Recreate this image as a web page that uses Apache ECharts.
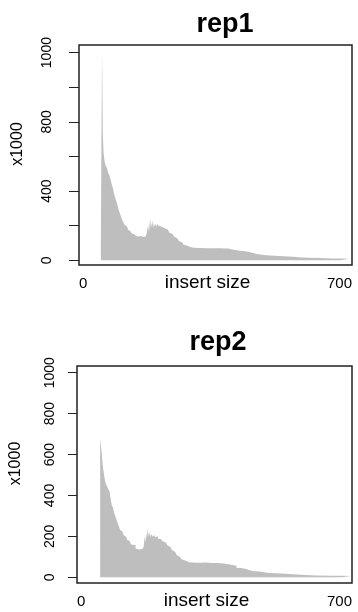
<!DOCTYPE html>
<html>
<head>
<meta charset="utf-8">
<script src="https://cdn.jsdelivr.net/npm/echarts@6/dist/echarts.min.js"></script>
<style>
  html, body { margin: 0; padding: 0; background: #fff; }
  #chart { width: 358px; height: 612px; }
</style>
</head>
<body>
<div id="chart"></div>
<script>
// Insert-size histograms for two replicates (counts in thousands).
// Each entry is the left edge of a bin and its count; bins run until the next edge.
const rep1Size = [56, 59, 61, 63, 66, 69, 72, 75, 78, 81, 84, 87, 90, 93, 96, 99, 102, 105, 108, 111,
  114, 117, 120, 123, 126, 129, 132, 135, 138, 141, 144, 147, 150, 153, 156, 159, 162, 165, 168, 171,
  174, 176, 178, 180, 182, 184, 186, 188, 190, 192, 194, 196, 198, 200, 203, 206, 209, 212, 216, 220,
  224, 228, 232, 236, 240, 244, 248, 252, 256, 260, 264, 268, 272, 276, 281, 287, 295, 310, 330, 350,
  365, 375, 383, 390, 396, 404, 413, 426, 438, 447, 456, 470, 481, 500, 524, 550, 570, 592, 620, 650,
  670, 692];
const rep1Count = [98, 1213, 735, 620, 565, 545, 530, 505, 490, 465, 440, 415, 385, 360, 340, 315, 290, 270, 250, 232,
  218, 205, 195, 185, 176, 168, 162, 156, 150, 145, 140, 132, 138, 128, 140, 130, 135, 128, 138, 148,
  160, 200, 165, 225, 175, 242, 190, 232, 185, 215, 195, 210, 192, 208, 198, 202, 194, 192, 186, 182,
  176, 168, 160, 152, 144, 136, 128, 120, 112, 104, 97, 90, 85, 80, 76, 73, 71, 70, 70, 70,
  69, 68, 64, 61, 58, 55, 52, 47, 42, 37, 32, 29, 27, 24, 21, 17, 15, 13, 11, 10,
  9, 0];

const rep2Size = [59, 61, 63, 65, 67, 69, 71, 74, 77, 80, 83, 86, 89, 92, 95, 98, 101, 104, 107, 110,
  113, 116, 119, 122, 125, 128, 131, 134, 137, 140, 143, 146, 149, 152, 155, 158, 161, 164, 167, 170,
  172, 174, 176, 178, 180, 182, 184, 186, 188, 190, 193, 196, 199, 202, 206, 210, 214, 218, 222, 226,
  230, 234, 238, 242, 246, 250, 254, 258, 262, 266, 270, 275, 280, 286, 295, 305, 315, 325, 335, 345,
  356, 373, 389, 406, 418, 431, 441, 452, 465, 475, 490, 505, 520, 540, 560, 580, 610, 650, 674, 697];
const rep2Count = [679, 672, 605, 557, 524, 500, 475, 455, 443, 430, 418, 378, 350, 337, 312, 296, 280, 262, 247, 231,
  222, 215, 206, 198, 190, 182, 178, 174, 162, 158, 150, 158, 141, 137, 145, 136, 133, 140, 132, 150,
  198, 170, 215, 190, 239, 200, 222, 195, 212, 206, 198, 208, 196, 200, 190, 186, 182, 176, 170, 164,
  156, 148, 140, 132, 124, 116, 108, 100, 94, 88, 82, 78, 74, 72, 71, 71, 72, 71, 70, 70,
  67, 63, 56, 45, 40, 33, 30, 28, 24, 21, 20, 18, 16, 13, 11, 9, 8, 7, 6, 0];

// Axis ticks and labels
const titles = ['rep1', 'rep2'];
const xRange = [0, 700];
const xTickValues = [0, 700];
const xTickLabels = ['0', '700'];
const yTicks1 = [0, 200, 400, 600, 800, 1000, 1200];
const yLabelValues1 = [0, 400, 800, 1200];
const yLabelTexts1 = ['0', '400', '800', '1000'];
const yTicks2 = [0, 200, 400, 600, 800, 1000];
const yLabelValues2 = [0, 200, 400, 600, 800, 1000];
const yLabelTexts2 = ['0', '200', '400', '600', '800', '1000'];

const FONT = '"Liberation Sans", Arial, sans-serif';
const BAR_GRAY = '#bebebe';

function pairs(xs, ys) { return xs.map((x, i) => [x, ys[i]]); }
function labelFor(values, texts) {
  return v => { const i = values.indexOf(v); return i >= 0 ? texts[i] : ''; };
}

function xAxisFor(gridIndex) {
  return {
    gridIndex, type: 'value', min: xRange[0], max: xRange[1],
    axisLine: { show: false }, axisTick: { show: false }, splitLine: { show: false },
    axisLabel: {
      customValues: xTickValues, formatter: labelFor(xTickValues, xTickLabels),
      alignMinLabel: 'left', alignMaxLabel: 'right',
      margin: 11, fontSize: 15, color: '#000', fontFamily: FONT
    },
    name: 'insert size', nameLocation: 'middle', nameGap: 8, nameMoveOverlap: false,
    nameTextStyle: { fontSize: 19, color: '#000', fontFamily: FONT, padding: [0, 16, 0, 0] }
  };
}

function yAxisFor(gridIndex, min, max, ticks, lv, lt, margin, tickLen) {
  return {
    gridIndex, type: 'value', min, max,
    axisLine: { show: false }, splitLine: { show: false },
    axisTick: { show: true, customValues: ticks, length: tickLen, lineStyle: { color: '#222', width: 1 } },
    axisLabel: {
      customValues: lv, formatter: labelFor(lv, lt), rotate: 90,
      margin, fontSize: 14, color: '#000', fontFamily: FONT
    },
    name: 'x1000', nameLocation: 'middle', nameRotate: 90, nameGap: 53, nameMoveOverlap: false,
    nameTextStyle: { fontSize: 16, color: '#000', fontFamily: FONT, padding: [0, 0, 0, 22] }
  };
}

function histSeries(idx, xs, ys) {
  return {
    type: 'line', xAxisIndex: idx, yAxisIndex: idx, step: 'end',
    data: pairs(xs, ys), showSymbol: false, symbol: 'none',
    lineStyle: { width: 0, opacity: 0 },
    areaStyle: { color: BAR_GRAY, opacity: 1 }
  };
}

const chart = echarts.init(document.getElementById('chart'), null, { renderer: 'canvas' });
chart.setOption({
  animation: false,
  backgroundColor: '#fff',
  title: [
    { text: titles[0], left: 220, top: 6, textAlign: 'center',
      textStyle: { fontSize: 27, fontWeight: 'bold', color: '#000', fontFamily: FONT } },
    { text: titles[1], left: 213, top: 324, textAlign: 'center',
      textStyle: { fontSize: 27, fontWeight: 'bold', color: '#000', fontFamily: FONT } }
  ],
  grid: [
    { left: 79, top: 45, width: 273, height: 220, show: true, borderColor: '#222', borderWidth: 1.5, backgroundColor: 'transparent' },
    { left: 74, top: 366, width: 278, height: 217, show: true, borderColor: '#222', borderWidth: 1.5, backgroundColor: 'transparent' }
  ],
  xAxis: [xAxisFor(0), xAxisFor(1)],
  yAxis: [
    yAxisFor(0, -27, 1244, yTicks1, yLabelValues1, yLabelTexts1, 25, 10),
    yAxisFor(1, -28, 1033, yTicks2, yLabelValues2, yLabelTexts2, 20, 9)
  ],
  series: [histSeries(0, rep1Size, rep1Count), histSeries(1, rep2Size, rep2Count)]
});
</script>
</body>
</html>
